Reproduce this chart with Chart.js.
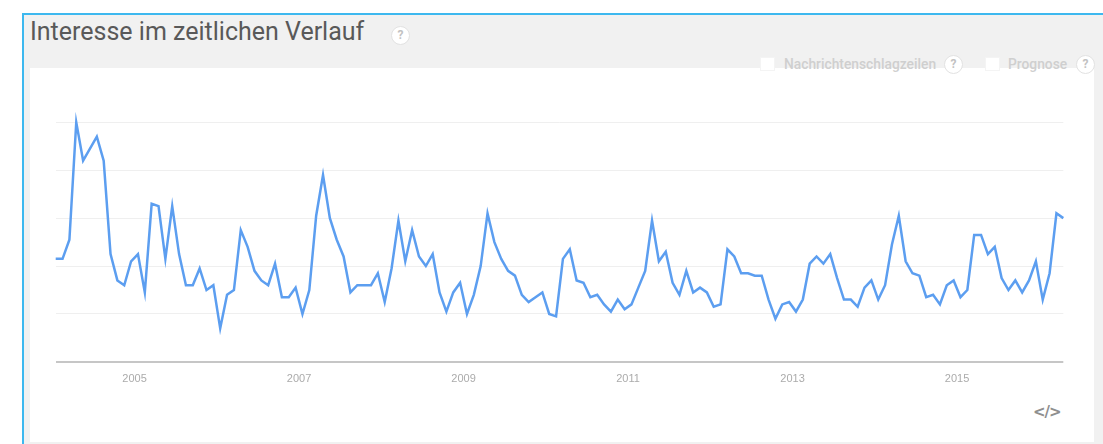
<!DOCTYPE html>
<html>
<head>
<meta charset="utf-8">
<script src="https://cdn.jsdelivr.net/npm/chart.js@4.4.0/dist/chart.umd.min.js"></script>
<style>
  html,body{margin:0;padding:0;background:#fff;width:1103px;height:444px;overflow:hidden;font-family:Roboto,"Noto Sans",sans-serif;}
  #card{position:absolute;left:22px;top:13px;width:1081px;height:431px;background:#f1f1f1;border-top:2px solid #3db8ef;border-left:2px solid #3db8ef;box-sizing:border-box;}
  #panel{position:absolute;left:30px;top:68px;width:1064px;height:374px;background:#fff;}
  #title{position:absolute;left:30px;top:17px;font-size:25px;line-height:30px;color:#595959;font-family:Roboto,sans-serif;white-space:nowrap;}
  .q{position:absolute;width:19px;height:19px;border-radius:50%;background:#fff;border:1px solid #e2e2e2;box-sizing:border-box;color:#c2c2c2;font-size:12px;font-weight:bold;text-align:center;line-height:17px;font-family:Roboto,sans-serif;}
  .cb{position:absolute;width:15px;height:14px;background:#fff;border:1px solid #f4f4f4;box-sizing:border-box;}
  .lg{position:absolute;font-size:13.8px;font-weight:500;color:#cfcfcf;font-family:Roboto,sans-serif;white-space:nowrap;line-height:16px;}
  #embed{position:absolute;left:1033px;top:403px;font-size:15px;font-weight:bold;color:#8f8f8f;letter-spacing:-1px;font-family:"DejaVu Sans",sans-serif;}
  canvas{position:absolute;left:0;top:0;}
</style>
</head>
<body>
<div id="card"></div>
<div id="panel"></div>
<div id="title">Interesse im zeitlichen Verlauf</div>
<div class="q" style="left:391px;top:26px;">?</div>
<div class="cb" style="left:760px;top:57px;"></div>
<div class="lg" style="left:784px;top:56px;">Nachrichtenschlagzeilen</div>
<div class="q" style="left:944px;top:55px;">?</div>
<div class="cb" style="left:985px;top:57px;"></div>
<div class="lg" style="left:1008px;top:56px;">Prognose</div>
<div class="q" style="left:1076px;top:55px;">?</div>
<div id="embed">&lt;/&gt;</div>
<canvas id="c" width="1103" height="444"></canvas>
<script>
// Monthly interest values (0-100), Jan 2004 - Apr 2016
const v2004 = [43,43,51,100,84,89,94,84,45,34,32,42];
const v2005 = [45,29,66,65,43,65,45,32,32,39,30,32];
const v2006 = [14,28,30,55,48,38,34,32,41,27,27,31];
const v2007 = [20,30,61,78,60,51,44,29,32,32,32,37];
const v2008 = [25,39,59,42,55,44,40,45,29,21,29,33];
const v2009 = [20,28,40,62,50,43,38,36,28,25,27,29];
const v2010 = [20,19,43,47,34,33,27,28,24,21,26,22];
const v2011 = [24,31,38,59,42,46,33,28,38,29,31,29];
const v2012 = [23,24,47,44,37,37,36,36,26,18,24,25];
const v2013 = [21,26,41,44,41,45,35,26,26,23,31,34];
const v2014 = [26,32,49,61,42,37,36,27,28,24,32,34];
const v2015 = [27,30,53,53,45,48,35,30,34,29,34,42];
const v2016 = [26,37,62,60];

const tickLabels = ['2005','2007','2009','2011','2013','2015'];
const startYear = 2004;

const values = [].concat(v2004,v2005,v2006,v2007,v2008,v2009,v2010,v2011,v2012,v2013,v2014,v2015,v2016);
const categories = values.map((_, i) => {
  const y = startYear + Math.floor(i / 12);
  const m = (i % 12) + 1;
  return y + '-' + (m < 10 ? '0' + m : m);
});

new Chart(document.getElementById('c'), {
  type: 'line',
  data: {
    labels: categories,
    datasets: [{
      data: values,
      borderColor: '#5c9ef0',
      borderWidth: 2.5,
      pointRadius: 0,
      tension: 0,
      fill: false,
      clip: false
    }]
  },
  options: {
    responsive: false,
    animation: false,
    events: [],
    layout: { padding: { left: 55.7, right: 39.7, top: 122.3, bottom: 52.1 } },
    plugins: { legend: { display: false }, tooltip: { enabled: false } },
    scales: {
      x: {
        type: 'category',
        offset: false,
        grid: { display: false, drawTicks: false },
        border: { display: false },
        afterFit: s => { s.height = 30; },
        ticks: {
          autoSkip: false,
          maxRotation: 0,
          minRotation: 0,
          padding: 10,
          labelOffset: -3.4,
          color: '#ababab',
          font: { family: '"Liberation Sans", Arial, sans-serif', size: 11 },
          callback: function(val, idx) {
            const lab = categories[idx];
            const yr = lab.slice(0, 4), mo = lab.slice(5);
            return (mo === '01' && tickLabels.includes(yr)) ? yr : null;
          }
        }
      },
      y: {
        min: 0,
        max: 100,
        afterFit: s => { s.width = 0; },
        border: { display: false },
        ticks: { display: false, stepSize: 20 },
        grid: {
          drawTicks: false,
          color: ctx => ctx.tick && ctx.tick.value === 0 ? '#c6c6c6' : '#efefef',
          lineWidth: ctx => ctx.tick && ctx.tick.value === 0 ? 2 : 1
        }
      }
    }
  }
});
</script>
</body>
</html>
